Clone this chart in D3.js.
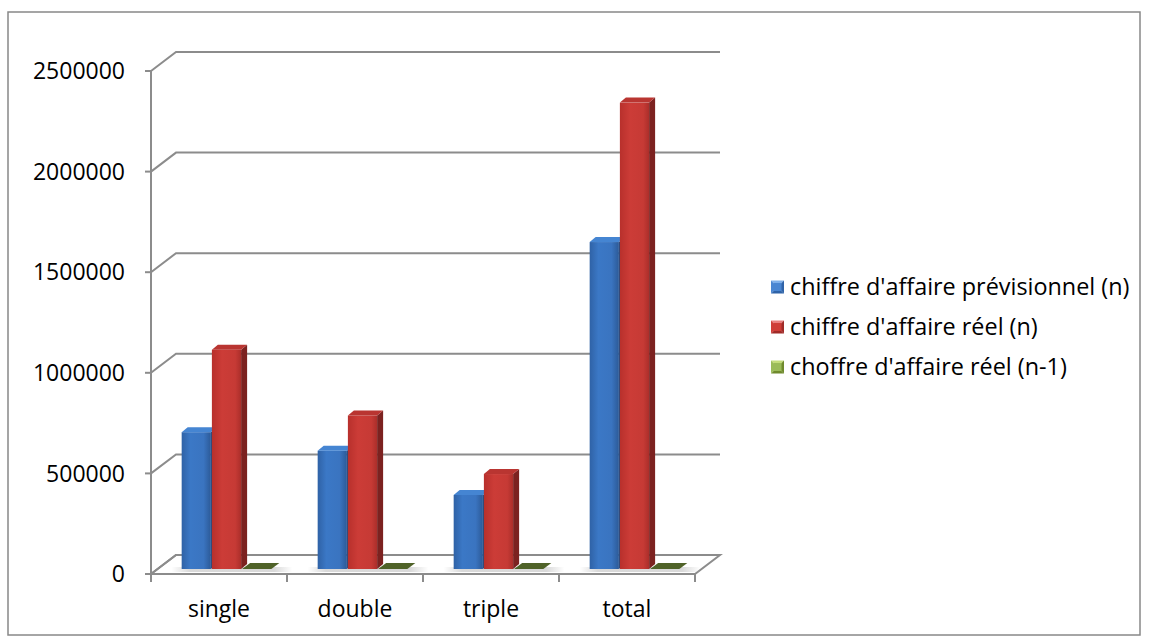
<!DOCTYPE html>
<html>
<head>
<meta charset="utf-8">
<script src="https://cdn.jsdelivr.net/npm/d3@7"></script>
<style>
  html, body { margin: 0; padding: 0; background: #fff; }
  svg { display: block; }
  text { font-family: "Open Sans", Lato, sans-serif; fill: #000; }
</style>
</head>
<body>
<svg id="chart" width="1149" height="643"></svg>
<script>
const categories = ["single", "double", "triple", "total"];
const seriesNames = ["chiffre d'affaire prévisionnel (n)", "chiffre d'affaire réel (n)", "choffre d'affaire réel (n-1)"];
const previsionnel = [680000, 588000, 368000, 1625000];
const reelN = [1090000, 763000, 472000, 2318000];
const reelN1 = [0, 0, 0, 0];
const yTicks = [0, 500000, 1000000, 1500000, 2000000, 2500000];

const seriesValues = [previsionnel, reelN, reelN1];

const svg = d3.select("#chart");

// outer border
svg.append("rect").attr("x", 8).attr("y", 12).attr("width", 1132).attr("height", 623)
  .attr("fill", "#fff").attr("stroke", "#888").attr("stroke-width", 1.5);

const left = 151, right = 695;
const DX = 25, DY = -19;
const x = d3.scaleBand().domain(categories).range([left, right]).paddingInner(0).paddingOuter(0);
const y = d3.scaleLinear().domain([0, 2500000]).range([574, 71]);
const xs = d3.scaleBand().domain(d3.range(3)).range([0, x.bandwidth()]).paddingInner(0).paddingOuter(0.75);

const defs = svg.append("defs");
function hgrad(id, stops) {
  const g = defs.append("linearGradient").attr("id", id).attr("x1", 0).attr("y1", 0).attr("x2", 1).attr("y2", 0);
  stops.forEach(s => g.append("stop").attr("offset", s[0]).attr("stop-color", s[1]));
}
hgrad("blueFront", [["0%", "#2f62a6"], ["30%", "#3b78c6"], ["75%", "#3a74c0"], ["100%", "#2c5a98"]]);
hgrad("redFront", [["0%", "#b8302c"], ["35%", "#cc3c37"], ["80%", "#c63a35"], ["100%", "#ab2e2a"]]);
const shadowG = defs.append("linearGradient").attr("id", "floorShadow").attr("x1", 0).attr("y1", 0).attr("x2", 1).attr("y2", 0);
shadowG.append("stop").attr("offset", "0%").attr("stop-color", "#cfcfcf").attr("stop-opacity", 0);
shadowG.append("stop").attr("offset", "15%").attr("stop-color", "#d0d0d0").attr("stop-opacity", 0.8);
shadowG.append("stop").attr("offset", "85%").attr("stop-color", "#d0d0d0").attr("stop-opacity", 0.8);
shadowG.append("stop").attr("offset", "100%").attr("stop-color", "#cfcfcf").attr("stop-opacity", 0);

const gridColor = "#8c8c8c";

// floor
const y0 = y(0);
svg.append("polygon")
  .attr("points", [[left, y0], [right, y0], [right + DX, y0 + DY], [left + DX, y0 + DY]].map(p => p.join(",")).join(" "))
  .attr("fill", "#fff").attr("stroke", gridColor).attr("stroke-width", 2);

// gridlines (back wall + side wall)
const grid = svg.append("g");
yTicks.forEach(t => {
  const yy = y(t);
  grid.append("polyline")
    .attr("points", [[left, yy], [left + DX, yy + DY], [right + DX, yy + DY]].map(p => p.join(",")).join(" "))
    .attr("fill", "none").attr("stroke", gridColor).attr("stroke-width", 2);
});

// y axis line and ticks
svg.append("line").attr("x1", left).attr("x2", left).attr("y1", y(2500000)).attr("y2", y0)
  .attr("stroke", gridColor).attr("stroke-width", 2);
const yAxis = svg.append("g");
yTicks.forEach(t => {
  yAxis.append("line").attr("x1", left - 6).attr("x2", left).attr("y1", y(t)).attr("y2", y(t))
    .attr("stroke", gridColor).attr("stroke-width", 2);
  yAxis.append("text").attr("x", 125).attr("y", y(t)).attr("dy", "0.36em")
    .attr("text-anchor", "end").attr("font-size", 23).text(t);
});

// x axis ticks + labels
const xAx = svg.append("g");
const tickXs = categories.map(c => x(c)).concat([right]);
tickXs.forEach(tx => {
  xAx.append("line").attr("x1", tx).attr("x2", tx).attr("y1", y0).attr("y2", y0 + 8)
    .attr("stroke", gridColor).attr("stroke-width", 2);
});
categories.forEach(c => {
  xAx.append("text").attr("x", x(c) + x.bandwidth() / 2).attr("y", 609).attr("dy", "0.36em")
    .attr("text-anchor", "middle").attr("font-size", 23).text(c);
});

// bars
const shiftX = 8, shiftY = -5;
const d = 6, dh = 5;
const barColors = [
  { front: "url(#blueFront)", top: "#4585d2", side: "#254d82" },
  { front: "url(#redFront)", top: "#b93531", side: "#7c2220" },
  { front: "#4f6228", top: "#4f6228", side: "#3f4f20" }
];
const bars = svg.append("g");
categories.forEach((c, ci) => {
  const gx = x(c) + xs(0) + shiftX - 10;
  bars.append("rect").attr("x", gx).attr("y", y0 + shiftY - 2).attr("width", xs.bandwidth() * 3 + 30).attr("height", 5)
    .attr("fill", "url(#floorShadow)");
  seriesValues.forEach((vals, si) => {
    const v = vals[ci];
    const bx = x(c) + xs(si) + shiftX;
    const w = xs.bandwidth() - 1;
    const base = y0 + shiftY;
    const top = y(v) + shiftY;
    const col = barColors[si];
    if (v > 0) {
      bars.append("rect").attr("x", bx).attr("y", top).attr("width", w).attr("height", base - top)
        .attr("fill", col.front);
      bars.append("polygon")
        .attr("points", [[bx + w, top], [bx + w + d, top - dh], [bx + w + d, base - dh], [bx + w, base]].map(p => p.join(",")).join(" "))
        .attr("fill", col.side);
      bars.append("polygon")
        .attr("points", [[bx, top], [bx + d, top - dh], [bx + w + d, top - dh], [bx + w, top]].map(p => p.join(",")).join(" "))
        .attr("fill", col.top);
    } else {
      bars.append("polygon")
        .attr("points", [[bx, base], [bx + d + 2, base - dh - 1], [bx + w + d + 2, base - dh - 1], [bx + w, base]].map(p => p.join(",")).join(" "))
        .attr("fill", col.top);
    }
  });
});

// legend
const legColors = [
  ["#7fb0ea", "#2f63a8", "#4a86d2"],
  ["#ea8080", "#a02a27", "#cf3d38"],
  ["#c4dc7a", "#6f8a2c", "#9bbb59"]
];
const leg = svg.append("g");
seriesNames.forEach((n, i) => {
  const ly = 287 + i * 40;
  const sx = 771, sz = 13;
  const c = legColors[i];
  const cx = sx + sz / 2, cy = ly;
  const tl = [sx, ly - sz / 2], tr = [sx + sz, ly - sz / 2], br = [sx + sz, ly + sz / 2], bl = [sx, ly + sz / 2];
  const ctr = [cx, cy];
  leg.append("polygon").attr("points", [tl, tr, ctr].map(p => p.join(",")).join(" ")).attr("fill", c[0]);
  leg.append("polygon").attr("points", [tr, br, ctr].map(p => p.join(",")).join(" ")).attr("fill", c[1]);
  leg.append("polygon").attr("points", [br, bl, ctr].map(p => p.join(",")).join(" ")).attr("fill", c[1]);
  leg.append("polygon").attr("points", [bl, tl, ctr].map(p => p.join(",")).join(" ")).attr("fill", c[2]);
  leg.append("rect").attr("x", sx + 2.5).attr("y", ly - sz / 2 + 2.5).attr("width", sz - 5).attr("height", sz - 5).attr("fill", c[2]);
  leg.append("text").attr("x", 790).attr("y", ly).attr("dy", "0.36em").attr("font-size", 23.4).text(n);
});
</script>
</body>
</html>
